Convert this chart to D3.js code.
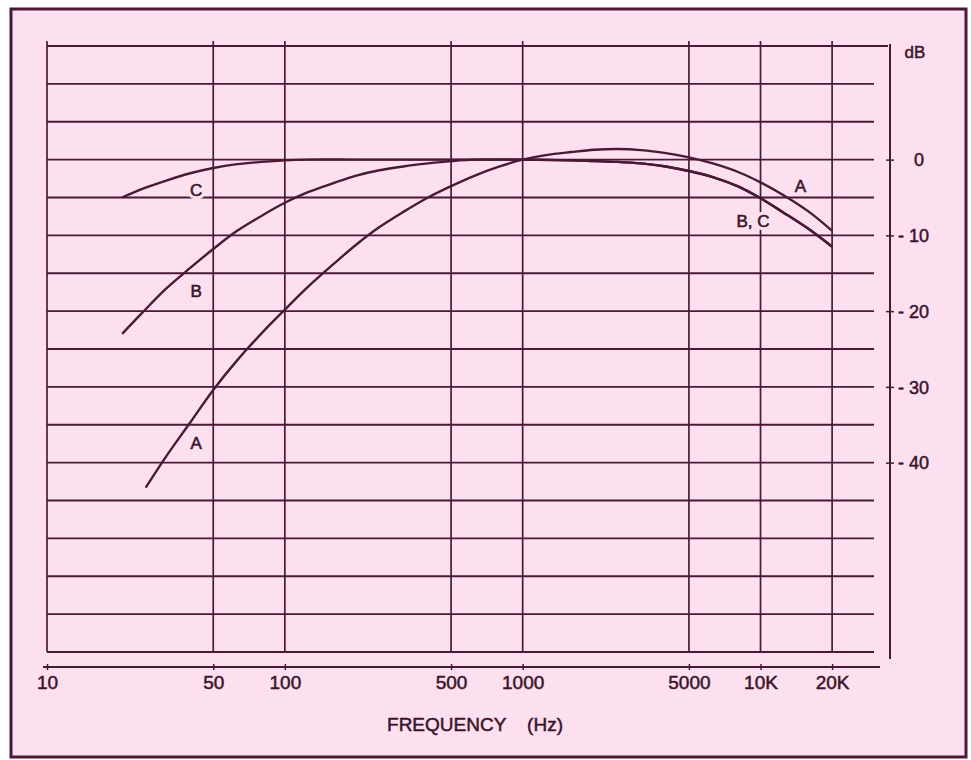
<!DOCTYPE html>
<html>
<head>
<meta charset="utf-8">
<script src="https://cdn.jsdelivr.net/npm/d3@7"></script>
<style>
  body { margin: 0; background: white; }
</style>
</head>
<body>
<script>
const POLICE = '"Liberation Sans", Arial, Helvetica, sans-serif'
const COULEUR_FOND = '#fde0f0'
const COULEUR_TRAIT = '#4a1a34'
const COULEUR_TEXTE = '#3a1529'

// Donnees
const freqTicks = [10, 50, 100, 500, 1000, 5000, 10000, 20000]
const freqLabels = ['10', '50', '100', '500', '1000', '5000', '10K', '20K']
const dbTicks = [0, -10, -20, -30, -40]
const dbLabels = ['0', '- 10', '- 20', '- 30', '- 40']

const freqA = [26, 31.5, 40, 50, 63, 80, 100, 125, 160, 200, 250, 315, 400, 500, 630, 800, 1000, 1250, 1600, 2000, 2500, 3150, 4000, 5000, 6300, 8000, 10000, 12500, 16000, 20000]
const courbeA = [-43.3, -39.3, -34.7, -30.4, -26.5, -22.9, -19.8, -16.8, -13.8, -11.2, -8.9, -6.9, -5.0, -3.5, -2.1, -0.9, 0, 0.6, 1.0, 1.3, 1.4, 1.25, 0.85, 0.3, -0.5, -1.6, -3, -4.7, -6.9, -9.4]

const freqB = [20.7, 25, 31.5, 40, 50, 63, 80, 100, 125, 160, 200, 250, 315, 400, 500, 630, 1000, 1600, 2000, 2500, 3150, 4000, 5000, 6300, 8000, 10000, 12500, 16000, 20000]
const courbeB = [-23, -20.3, -17.1, -14.3, -11.8, -9.4, -7.4, -5.7, -4.3, -3.1, -2.1, -1.4, -0.9, -0.5, -0.2, 0, 0, -0.1, -0.2, -0.3, -0.5, -0.9, -1.5, -2.3, -3.5, -5.1, -7, -9.2, -11.5]

const freqC = [20.7, 25, 31.5, 40, 50, 63, 80, 100, 125, 200, 500, 1000, 1600, 2000, 2500, 3150, 4000, 5000, 6300, 8000, 10000, 12500, 16000, 20000]
const courbeC = [-5, -3.9, -2.8, -1.8, -1.1, -0.6, -0.3, -0.1, 0, 0, 0, 0, -0.1, -0.2, -0.3, -0.5, -0.9, -1.5, -2.3, -3.5, -5.1, -7, -9.2, -11.5]

const etiquettes = [
  { t: 'C', f: 42.4, db: -4.8, coupe: true },
  { t: 'B', f: 42.4, db: -18.1, coupe: false },
  { t: 'A', f: 42.4, db: -38.2, coupe: false },
  { t: 'A', f: 14700, db: -4.3, coupe: false },
  { t: 'B, C', f: 9300, db: -8.9, coupe: true }
]

const width = 971, height = 760

const svg = d3.select('body').append('svg')
  .attr('width', width).attr('height', height)

// Cadre
svg.append('rect').attr('x', 11).attr('y', 9).attr('width', 955).attr('height', 748)
  .attr('fill', COULEUR_FOND).attr('stroke', COULEUR_TRAIT).attr('stroke-width', 3)

// Echelles
const x = d3.scaleLog().domain([10, 30000]).range([47, 874])
const y = d3.scaleLinear().domain([15, -65]).range([46, 652])

// Grille horizontale
svg.append('g').selectAll('line').data(d3.range(15, -66, -5)).join('line')
  .attr('x1', x(10)).attr('x2', d => d === 15 ? 888 : x(30000))
  .attr('y1', d => y(d)).attr('y2', d => y(d))
  .attr('stroke', COULEUR_TRAIT).attr('stroke-width', 1.9)

// Grille verticale
svg.append('g').selectAll('line').data(freqTicks).join('line')
  .attr('x1', d => x(d)).attr('x2', d => x(d))
  .attr('y1', 41).attr('y2', y(-65))
  .attr('stroke', COULEUR_TRAIT).attr('stroke-width', 1.7)

// Axe des frequences
const axeX = svg.append('g').attr('transform', 'translate(0,667)')
  .call(d3.axisBottom(x).tickValues(freqTicks).tickFormat((d, i) => freqLabels[i]).tickSize(3).tickSizeOuter(0))
axeX.select('.domain').attr('d', 'M43,0H880').attr('stroke', COULEUR_TRAIT).attr('stroke-width', 2)
axeX.selectAll('.tick line').attr('y1', -3).attr('stroke', COULEUR_TRAIT).attr('stroke-width', 1.5)
axeX.selectAll('.tick text').attr('dy', 0).attr('y', 22)
  .attr('font-family', POLICE).attr('font-size', 19).attr('fill', COULEUR_TEXTE)
  .attr('stroke', COULEUR_TEXTE).attr('stroke-width', 0.5)

// Axe des dB
const axeY = svg.append('g').attr('transform', 'translate(890,0)')
  .call(d3.axisRight(y).tickValues(dbTicks).tickFormat((d, i) => dbLabels[i]).tickSize(4).tickSizeOuter(0))
axeY.select('.domain').attr('d', 'M0,44V659').attr('stroke', COULEUR_TRAIT).attr('stroke-width', 2)
axeY.selectAll('.tick line').attr('x1', -4).attr('stroke', COULEUR_TRAIT).attr('stroke-width', 1.5)
axeY.selectAll('.tick text').attr('text-anchor', 'end').attr('x', (d) => d === 0 ? 34 : 39).attr('dy', '0.35em')
  .attr('font-family', POLICE).attr('font-size', 18).attr('fill', COULEUR_TEXTE)
  .attr('stroke', COULEUR_TEXTE).attr('stroke-width', 0.5)

svg.append('text').text('dB').attr('x', 915).attr('y', 58).attr('text-anchor', 'middle')
  .attr('font-family', POLICE).attr('font-size', 17).attr('fill', COULEUR_TEXTE)
  .attr('stroke', COULEUR_TEXTE).attr('stroke-width', 0.5)

// Courbes
const ligne = d3.line().x(d => x(d[0])).y(d => y(d[1])).curve(d3.curveCatmullRom.alpha(0.5))
const series = [[freqA, courbeA], [freqB, courbeB], [freqC, courbeC]]
svg.append('g').selectAll('path').data(series).join('path')
  .attr('d', s => ligne(d3.zip(s[0], s[1])))
  .attr('fill', 'none').attr('stroke', COULEUR_TRAIT).attr('stroke-width', 2.4)

// Etiquettes des courbes (fond rose pour couper la grille)
const etiq = svg.append('g').selectAll('g').data(etiquettes).join('g')
etiq.filter(d => d.coupe).append('text')
  .text(d => d.t).attr('x', d => x(d.f)).attr('y', d => y(d.db))
  .attr('text-anchor', 'middle').attr('font-family', POLICE).attr('font-size', 17)
  .attr('fill', COULEUR_FOND).attr('stroke', COULEUR_FOND).attr('stroke-width', 7)
etiq.append('text')
  .text(d => d.t).attr('x', d => x(d.f)).attr('y', d => y(d.db))
  .attr('text-anchor', 'middle').attr('font-family', POLICE).attr('font-size', 17)
  .attr('fill', COULEUR_TEXTE).attr('stroke', COULEUR_TEXTE).attr('stroke-width', 0.6)

// Titre de l'axe
svg.append('text').attr('x', 475).attr('y', 731).attr('text-anchor', 'middle')
  .attr('font-family', POLICE).attr('font-size', 19).attr('fill', COULEUR_TEXTE)
  .attr('stroke', COULEUR_TEXTE).attr('stroke-width', 0.5)
  .style('white-space', 'pre')
  .text('FREQUENCY    (Hz)')
</script>
</body>
</html>
